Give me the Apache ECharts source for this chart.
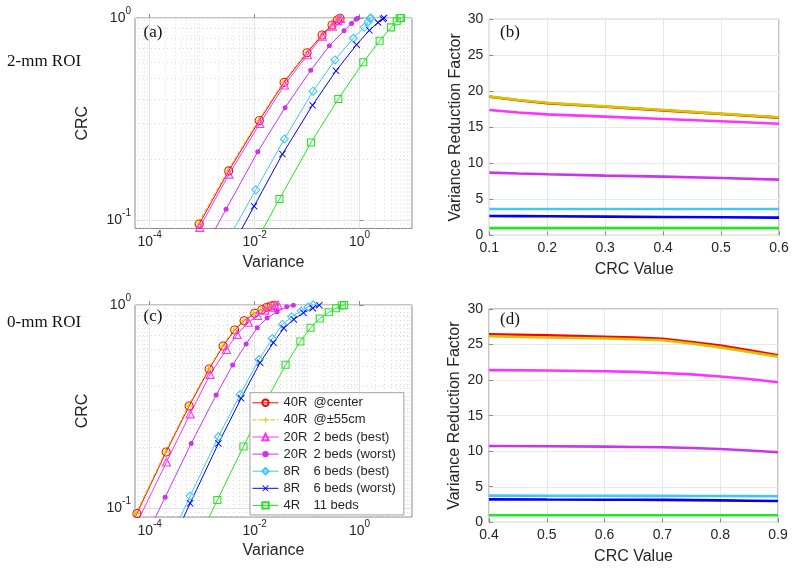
<!DOCTYPE html>
<html><head><meta charset="utf-8">
<script src="https://cdn.jsdelivr.net/npm/echarts@6/dist/echarts.min.js"></script>
<style>html,body{margin:0;padding:0;background:#fff}#c{width:800px;height:571px}</style>
</head><body><div id="c"></div>
<script>
// ---------- legend / series names ----------
const legendCol1 = ['40R', '40R', '20R', '20R', '8R', '8R', '4R'];
const legendCol2 = ['@center', '@\u00b155cm', '2 beds (best)', '2 beds (worst)', '6 beds (best)', '6 beds (worst)', '11 beds'];
const seriesNames = legendCol1.map((a, i) => a + ' ' + legendCol2[i]);

// ---------- panel (a): 2-mm ROI, CRC vs Variance ----------
const a_var_40R_center = [2.8e-4, 8.8e-4, 3.2e-3, 0.0123, 0.0365, 0.100, 0.193, 0.299, 0.378, 0.425];
const a_crc_40R_center = [0.056, 0.0955, 0.175, 0.311, 0.480, 0.673, 0.824, 0.923, 0.977, 0.998];
const a_var_40R_55cm = [2.7e-4, 8.45e-4, 3.07e-3, 0.0118, 0.035, 0.096, 0.185, 0.287, 0.363, 0.408];
const a_crc_40R_55cm = [0.057, 0.0965, 0.176, 0.312, 0.481, 0.674, 0.825, 0.924, 0.978, 0.998];
const a_var_20R_best = [2.9e-4, 9.0e-4, 3.25e-3, 0.0126, 0.0372, 0.102, 0.196, 0.304, 0.385, 0.435];
const a_crc_20R_best = [0.0537, 0.092, 0.1687, 0.3006, 0.4656, 0.6577, 0.8128, 0.912, 0.9705, 0.9954];
const a_var_20R_worst = [7.9e-4, 2.86e-3, 0.0115, 0.0381, 0.1175, 0.266, 0.507, 0.705, 0.857, 0.916];
const a_crc_20R_worst = [0.0617, 0.113, 0.218, 0.360, 0.551, 0.728, 0.865, 0.94, 0.986, 0.998];
const a_var_8R_best = [3.16e-3, 0.01054, 0.037, 0.130, 0.341, 0.762, 1.23, 1.47, 1.585, 1.63];
const a_crc_8R_best = [0.081, 0.141, 0.252, 0.434, 0.62, 0.794, 0.899, 0.959, 0.995, 1.0];
const a_var_8R_worst = [2.8e-3, 9.78e-3, 0.0339, 0.127, 0.357, 0.877, 1.54, 2.25, 2.77, 2.93];
const a_crc_8R_worst = [0.0646, 0.117, 0.212, 0.370, 0.548, 0.738, 0.869, 0.95, 0.99, 1.0];
const a_var_4R = [7.9e-3, 0.0297, 0.119, 0.394, 1.18, 2.42, 3.98, 5.11, 5.83, 6.17];
const a_crc_4R = [0.068, 0.127, 0.242, 0.397, 0.604, 0.772, 0.899, 0.964, 0.997, 1.0];

// ---------- panel (c): 0-mm ROI, CRC vs Variance ----------
const c_var_40R_center = [1.6e-5, 5.7e-5, 2.06e-4, 5.65e-4, 1.36e-3, 2.51e-3, 4.16e-3, 6.3e-3, 0.01, 0.0137, 0.0171, 0.0206, 0.0235];
const c_crc_40R_center = [0.047, 0.094, 0.189, 0.318, 0.484, 0.628, 0.753, 0.837, 0.911, 0.948, 0.975, 0.989, 0.997];
const c_var_40R_55cm = [1.54e-5, 5.47e-5, 1.98e-4, 5.42e-4, 1.31e-3, 2.41e-3, 3.99e-3, 6.05e-3, 0.0096, 0.0132, 0.0164, 0.0198, 0.0226];
const c_crc_40R_55cm = [0.047, 0.094, 0.189, 0.318, 0.484, 0.628, 0.753, 0.837, 0.911, 0.948, 0.975, 0.989, 0.997];
const c_var_20R_best = [6.3e-5, 2.09e-4, 5.9e-4, 1.42e-3, 2.9e-3, 4.64e-3, 7.6e-3, 0.0114, 0.0158, 0.0204, 0.0246, 0.028];
const c_crc_20R_best = [0.089, 0.1685, 0.291, 0.455, 0.604, 0.717, 0.822, 0.887, 0.944, 0.975, 0.993, 1.0];
const c_var_20R_worst = [6.3e-5, 1.97e-4, 6.17e-4, 1.85e-3, 3.81e-3, 6.89e-3, 0.01125, 0.0173, 0.0268, 0.041, 0.0548];
const c_crc_20R_worst = [0.0617, 0.113, 0.208, 0.36, 0.506, 0.643, 0.772, 0.863, 0.927, 0.981, 0.997];
const c_var_8R_best = [2e-4, 5.9e-4, 2.04e-3, 5.3e-3, 0.0121, 0.0217, 0.0339, 0.0511, 0.0769, 0.1045, 0.13];
const c_crc_8R_best = [0.063, 0.1146, 0.2245, 0.362, 0.539, 0.683, 0.802, 0.875, 0.934, 0.978, 1.0];
const c_var_8R_worst = [2e-4, 5.9e-4, 2.04e-3, 5.53e-3, 0.0127, 0.0228, 0.036, 0.0558, 0.085, 0.1285, 0.1715];
const c_crc_8R_worst = [0.058, 0.1055, 0.208, 0.347, 0.52, 0.652, 0.769, 0.849, 0.916, 0.964, 0.998];
const c_var_4R = [6.3e-4, 1.95e-3, 6.12e-3, 0.0158, 0.039, 0.0745, 0.1166, 0.1746, 0.259, 0.357, 0.458, 0.507];
const c_crc_4R = [0.06, 0.1095, 0.201, 0.329, 0.5075, 0.661, 0.772, 0.858, 0.921, 0.964, 0.995, 1.0];

// ---------- panel (b): Variance Reduction Factor vs CRC (2-mm ROI) ----------
const b_crc = [0.1, 0.15, 0.2, 0.3, 0.4, 0.5, 0.6];
const b_vrf_40R_center = [19.25, 18.75, 18.35, 17.85, 17.35, 16.85, 16.35];
const b_vrf_40R_55cm = [19.3, 18.8, 18.4, 17.9, 17.4, 16.9, 16.4];
const b_vrf_20R_best = [17.4, 17.05, 16.8, 16.48, 16.16, 15.83, 15.5];
const b_vrf_20R_worst = [8.7, 8.58, 8.47, 8.29, 8.15, 7.96, 7.73];
const b_vrf_8R_best = [3.66, 3.66, 3.66, 3.66, 3.66, 3.66, 3.66];
const b_vrf_8R_worst = [2.69, 2.67, 2.65, 2.6, 2.55, 2.5, 2.45];
const b_vrf_4R = [1, 1, 1, 1, 1, 1, 1];

// ---------- panel (d): Variance Reduction Factor vs CRC (0-mm ROI) ----------
const d_crc = [0.4, 0.5, 0.6, 0.65, 0.7, 0.75, 0.8, 0.85, 0.9];
const d_vrf_40R_center = [26.44, 26.3, 26.1, 26.0, 25.8, 25.36, 24.85, 24.2, 23.5];
const d_vrf_40R_55cm = [26.16, 26.0, 25.85, 25.75, 25.6, 25.15, 24.6, 23.95, 23.3];
const d_vrf_20R_best = [21.4, 21.35, 21.25, 21.15, 21.0, 20.8, 20.5, 20.15, 19.7];
const d_vrf_20R_worst = [10.74, 10.7, 10.64, 10.6, 10.55, 10.45, 10.3, 10.1, 9.85];
const d_vrf_8R_best = [3.75, 3.74, 3.73, 3.72, 3.71, 3.7, 3.69, 3.68, 3.66];
const d_vrf_8R_worst = [3.23, 3.2, 3.18, 3.17, 3.15, 3.12, 3.08, 3.04, 3.0];
const d_vrf_4R = [1, 1, 1, 1, 1, 1, 1, 1, 1];

// ---------- tick labels ----------
const logXTicks = [-4, -2, 0];     // exponents of 10 on the Variance axes
const logYTicks = [-1, 0];         // exponents of 10 on the CRC axes
const panelLetters = ['(a)', '(b)', '(c)', '(d)'];
const rowLabels = ['2-mm ROI', '0-mm ROI'];

// ---------- styles ----------
const plusPath = 'path://M4.4,0H5.6V4.4H10V5.6H5.6V10H4.4V5.6H0V4.4H4.4Z';
const xPath = 'path://M0,0.9L0.9,0L5,4.1L9.1,0L10,0.9L5.9,5L10,9.1L9.1,10L5,5.9L0.9,10L0,9.1L4.1,5Z';
const styles = [
  { color: '#ff0000', symbol: 'circle', size: 8, hollow: true, dash: 'solid' },
  { color: '#d2c600', symbol: plusPath, size: 8, hollow: false, dash: 'dashed' },
  { color: '#ff33ff', symbol: 'triangle', size: 8, hollow: true, dash: 'solid' },
  { color: '#cc33ee', symbol: 'circle', size: 5, hollow: false, dash: 'solid' },
  { color: '#44c6f4', symbol: 'diamond', size: 8, hollow: true, dash: 'solid' },
  { color: '#0000ff', symbol: xPath, size: 7, hollow: false, dash: 'solid' },
  { color: '#22e622', symbol: 'rect', size: 7, hollow: true, dash: 'solid' }
];

const FONT = '"Liberation Sans", Arial, Helvetica, sans-serif';
const SERIF = '"Liberation Serif", "Times New Roman", serif';
const TXT = '#262626';
const FRAME = '#8a8a8a';

const aX = [a_var_40R_center, a_var_40R_55cm, a_var_20R_best, a_var_20R_worst, a_var_8R_best, a_var_8R_worst, a_var_4R];
const aY = [a_crc_40R_center, a_crc_40R_55cm, a_crc_20R_best, a_crc_20R_worst, a_crc_8R_best, a_crc_8R_worst, a_crc_4R];
const cX = [c_var_40R_center, c_var_40R_55cm, c_var_20R_best, c_var_20R_worst, c_var_8R_best, c_var_8R_worst, c_var_4R];
const cY = [c_crc_40R_center, c_crc_40R_55cm, c_crc_20R_best, c_crc_20R_worst, c_crc_8R_best, c_crc_8R_worst, c_crc_4R];
const bY = [b_vrf_40R_center, b_vrf_40R_55cm, b_vrf_20R_best, b_vrf_20R_worst, b_vrf_8R_best, b_vrf_8R_worst, b_vrf_4R];
const dY = [d_vrf_40R_center, d_vrf_40R_55cm, d_vrf_20R_best, d_vrf_20R_worst, d_vrf_8R_best, d_vrf_8R_worst, d_vrf_4R];

const grids = [
  { left: 135, top: 18, width: 277, height: 210.5 },    // (a)
  { left: 489.3, top: 19.3, width: 289.7, height: 216 }, // (b)
  { left: 135, top: 305, width: 277, height: 212 },      // (c)
  { left: 489, top: 309, width: 289, height: 213.3 }     // (d)
].map(g => Object.assign({ show: true, borderColor: FRAME, borderWidth: 1, backgroundColor: '#fff' }, g));

const expLabel = v => '{b|10}{e|' + Math.round(v) + '}';
const expRich = {
  b: { fontSize: 14, lineHeight: 14, fontFamily: FONT, color: TXT, verticalAlign: 'bottom' },
  e: { fontSize: 10, lineHeight: 10, fontFamily: FONT, color: TXT, verticalAlign: 'bottom', padding: [0, 0, 9, 0] }
};

function logXAxis(gi) {
  return {
    type: 'value', gridIndex: gi, min: -4.28, max: 1.0,
    name: 'Variance', nameLocation: 'middle', nameGap: 26,
    nameTextStyle: { fontSize: 16, fontFamily: FONT, color: TXT },
    axisLine: { show: false },
    axisTick: { show: true, inside: true, length: 4, customValues: logXTicks, lineStyle: { color: FRAME } },
    axisLabel: { customValues: logXTicks, formatter: expLabel, rich: expRich, margin: 7 },
    splitLine: { show: true, lineStyle: { color: '#e4e4e4', width: 1 } }
  };
}
function logYAxis(gi) {
  return {
    type: 'value', gridIndex: gi, min: gi === 0 ? -1.042 : -1.044, max: 0,
    name: 'CRC', nameLocation: 'middle', nameGap: 44,
    nameTextStyle: { fontSize: 16, fontFamily: FONT, color: TXT },
    axisLine: { show: false },
    axisTick: { show: true, inside: true, length: 4, customValues: logYTicks, lineStyle: { color: FRAME } },
    axisLabel: { customValues: logYTicks, formatter: expLabel, rich: expRich, margin: 4 },
    splitLine: { show: true, lineStyle: { color: '#e4e4e4', width: 1 } }
  };
}
function linXAxis(gi, min, max) {
  return {
    type: 'value', gridIndex: gi, min: min, max: max, interval: 0.1,
    name: 'CRC Value', nameLocation: 'middle', nameGap: 26,
    nameTextStyle: { fontSize: 16, fontFamily: FONT, color: TXT },
    axisLine: { show: false },
    axisTick: { show: true, inside: true, length: 4, lineStyle: { color: FRAME } },
    axisLabel: { fontSize: 14, fontFamily: FONT, color: TXT, margin: 6, formatter: v => v.toFixed(1) },
    splitLine: { show: true, lineStyle: { color: '#e8e8e8', width: 1 } }
  };
}
function linYAxis(gi) {
  return {
    type: 'value', gridIndex: gi, min: 0, max: 30, interval: 5,
    name: 'Variance Reduction Factor', nameLocation: 'middle', nameGap: 26,
    nameTextStyle: { fontSize: 16, fontFamily: FONT, color: TXT },
    axisLine: { show: false },
    axisTick: { show: true, inside: true, length: 4, lineStyle: { color: FRAME } },
    axisLabel: { fontSize: 14, fontFamily: FONT, color: TXT, margin: 6 },
    splitLine: { show: true, lineStyle: { color: '#e8e8e8', width: 1 } }
  };
}

// minor log grid lines (dotted), MATLAB style
function minorGridSeries(gi, xmin, xmax, ymin) {
  const data = [];
  for (let n = -6; n <= 1; n++) {
    for (let k = 1; k <= 9; k++) {
      const v = n + Math.log10(k);
      if (v > xmin && v < xmax && logXTicks.indexOf(v) < 0) data.push({ xAxis: v });
    }
  }
  for (let k = 2; k <= 9; k++) {
    const v = -1 + Math.log10(k);
    if (v > ymin) data.push({ yAxis: v });
  }
  return {
    type: 'line', name: 'grid' + gi, data: [], xAxisIndex: gi, yAxisIndex: gi, silent: true,
    markLine: {
      silent: true, symbol: ['none', 'none'], label: { show: false }, animation: false, z: 1,
      lineStyle: { type: [1, 3], color: '#dadada', width: 1 },
      emphasis: { disabled: true },
      data: data
    }
  };
}

const series = [minorGridSeries(0, -4.28, 1.0, -1.042), minorGridSeries(2, -4.28, 1.0, -1.044)];

function logPanelSeries(gi, X, Y) {
  seriesNames.forEach((nm, i) => {
    const st = styles[i];
    series.push({
      type: 'line', name: nm, xAxisIndex: gi, yAxisIndex: gi,
      data: X[i].map((v, j) => [Math.log10(v), Math.log10(Y[i][j])]),
      symbol: st.symbol, symbolSize: st.size, showAllSymbol: true, clip: true,
      lineStyle: { color: st.color, width: 1, type: st.dash },
      itemStyle: st.hollow
        ? { color: 'rgba(255,255,255,0)', borderColor: st.color, borderWidth: 1.1 }
        : { color: st.color, borderWidth: 0 },
      emphasis: { disabled: true }
    });
  });
}
function linPanelSeries(gi, xs, Y) {
  seriesNames.forEach((nm, i) => {
    const st = styles[i];
    series.push({
      type: 'line', name: nm, xAxisIndex: gi, yAxisIndex: gi,
      data: xs.map((x, j) => [x, Y[i][j]]),
      showSymbol: false, smooth: false, clip: true,
      lineStyle: { color: st.color, width: 2.6 },
      itemStyle: { color: st.color },
      emphasis: { disabled: true }
    });
  });
}
logPanelSeries(0, aX, aY);
linPanelSeries(1, b_crc, bY);
logPanelSeries(2, cX, cY);
linPanelSeries(3, d_crc, dY);

const letterPos = [[143.5, 33], [500, 32.5], [143.5, 317], [500, 319.5]];
const graphic = panelLetters.map((t, i) => ({
  type: 'text', x: letterPos[i][0], y: letterPos[i][1], z: 10,
  style: { text: t, fontSize: 17, fontFamily: SERIF, fill: '#111', verticalAlign: 'middle', align: 'left' }
}));
[[7, 62], [7, 323]].forEach((p, i) => graphic.push({
  type: 'text', x: p[0], y: p[1], z: 10,
  style: { text: rowLabels[i], fontSize: 17, fontFamily: SERIF, fill: '#111', verticalAlign: 'middle', align: 'left' }
}));

const chart = echarts.init(document.getElementById('c'), null, { renderer: 'canvas' });
chart.setOption({
  animation: false,
  backgroundColor: '#ffffff',
  grid: grids,
  xAxis: [logXAxis(0), linXAxis(1, 0.1, 0.6), logXAxis(2), linXAxis(3, 0.4, 0.9)],
  yAxis: [logYAxis(0), linYAxis(1), logYAxis(2), linYAxis(3)],
  legend: {
    data: seriesNames, orient: 'vertical', left: 250, top: 392.7,
    padding: [3.6, 8, 3, 2], itemGap: 4.1, itemWidth: 26, itemHeight: 8,
    backgroundColor: '#ffffff', borderColor: '#8a8a8a', borderWidth: 0.8, borderRadius: 0,
    selectedMode: false,
    lineStyle: { width: 1 },
    formatter: name => {
      const i = seriesNames.indexOf(name);
      return '{a|' + legendCol1[i] + '}{b|' + legendCol2[i] + '}';
    },
    textStyle: {
      rich: {
        a: { width: 30, fontSize: 13, lineHeight: 12, fontFamily: FONT, color: TXT },
        b: { fontSize: 13, lineHeight: 12, fontFamily: FONT, color: TXT }
      }
    }
  },
  graphic: graphic,
  series: series
});
</script></body></html>
